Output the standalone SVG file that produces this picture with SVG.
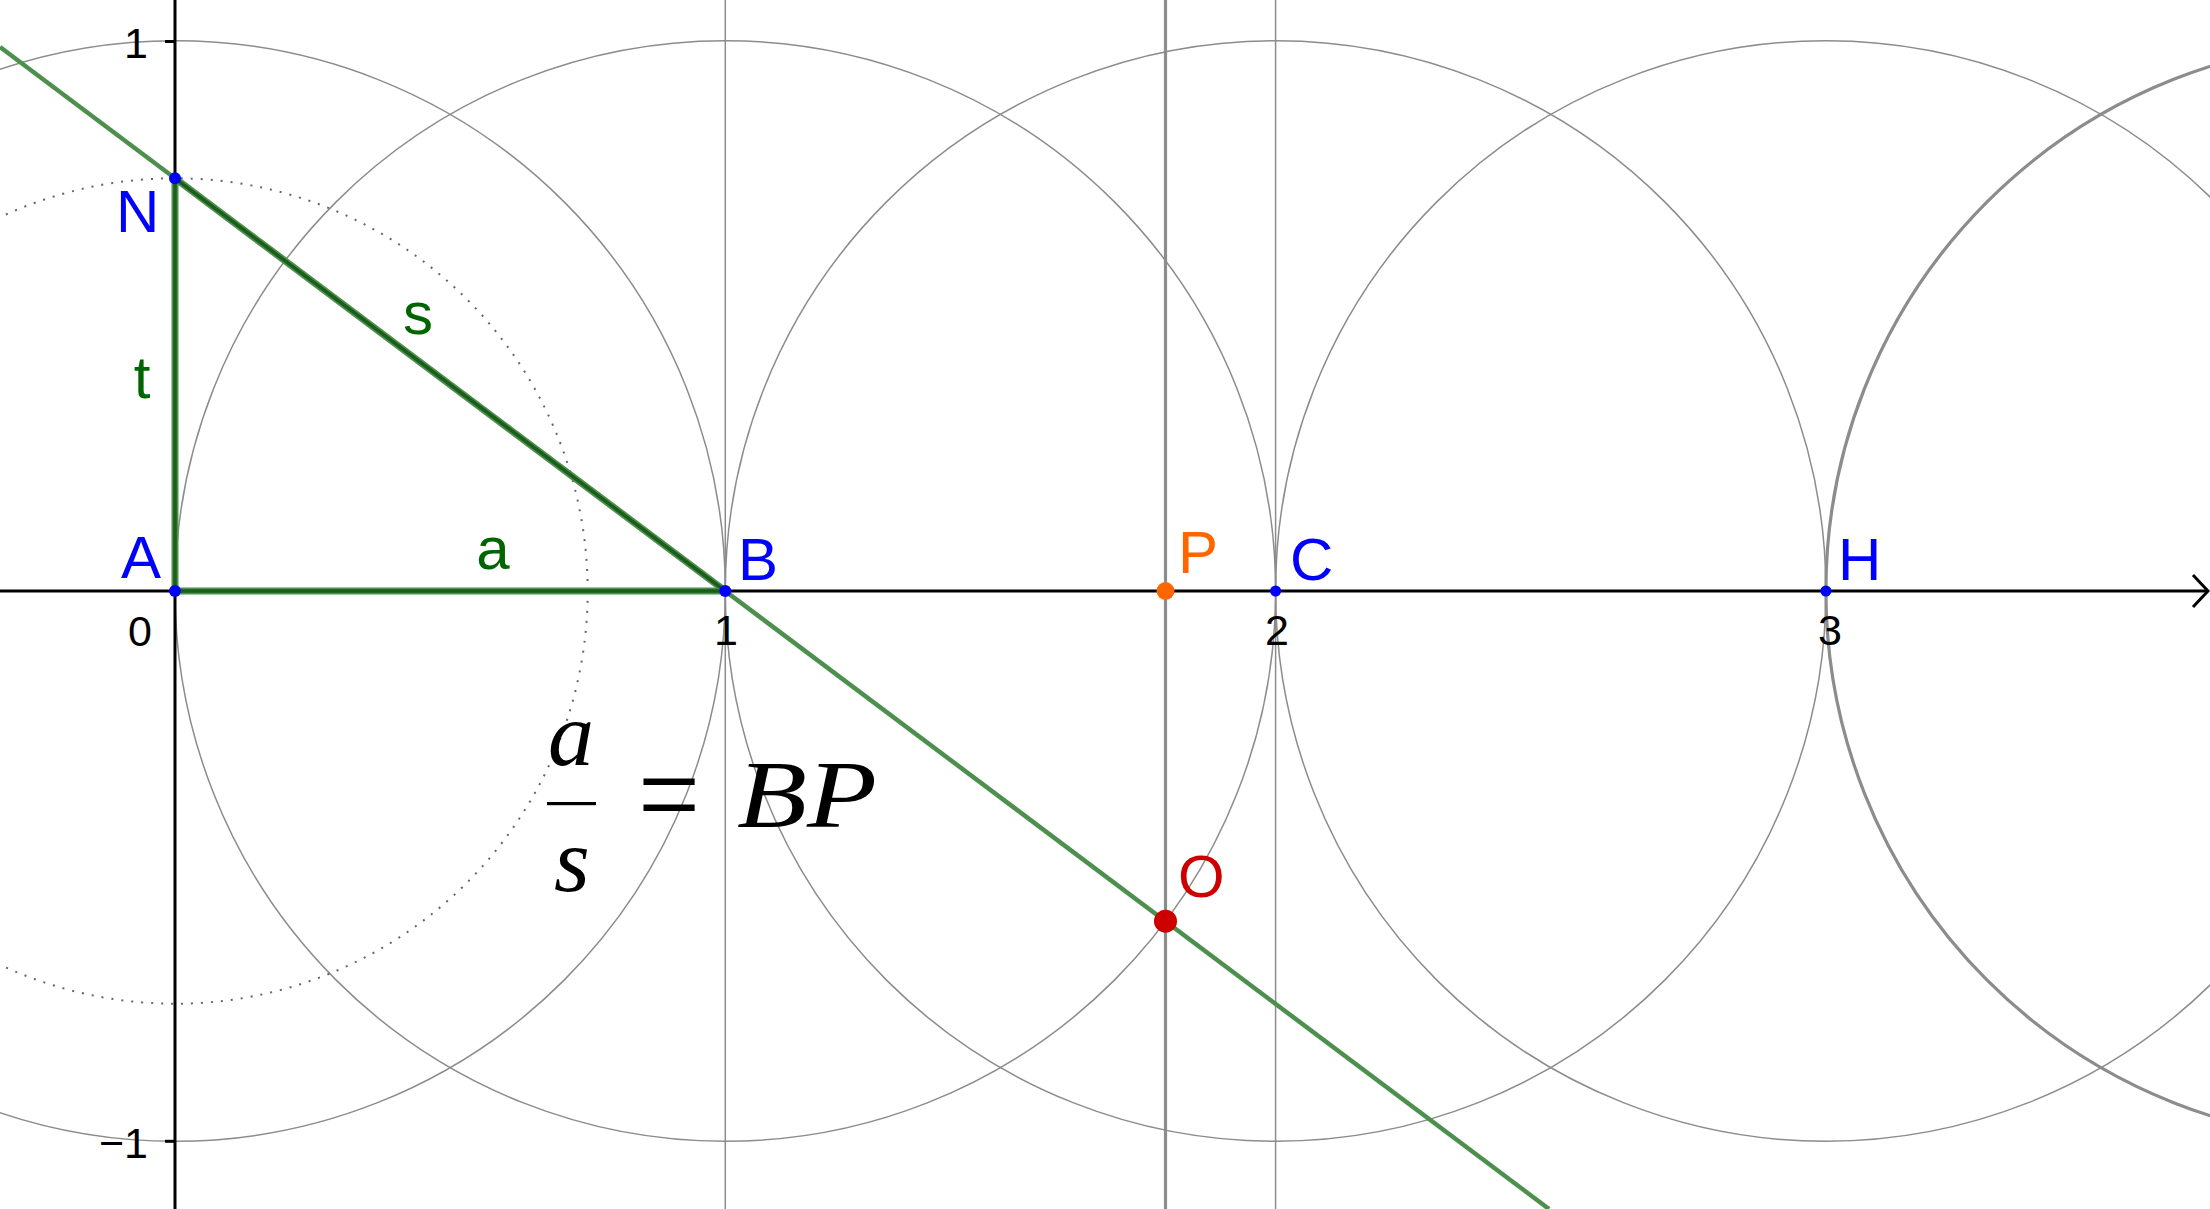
<svg xmlns="http://www.w3.org/2000/svg" width="2210" height="1209" viewBox="0 0 2210 1209">
<style>
.circ{fill:none;stroke:#8c8c8c;stroke-width:1.5}
.circb{fill:none;stroke:#8c8c8c;stroke-width:3.2}
.vl{stroke:#8c8c8c;stroke-width:1.5}
.vlb{stroke:#8c8c8c;stroke-width:3.2}
.axis{stroke:#000;stroke-width:3;fill:none}
.tick{font-family:"Liberation Sans",Arial,sans-serif;font-size:43px;fill:#000}
.lbl{font-family:"Liberation Sans",Arial,sans-serif;font-size:60px}
.glbl{font-family:"Liberation Sans",Arial,sans-serif;font-size:60px;fill:#006400}
.math{font-family:"Liberation Serif","Times New Roman",serif;font-style:italic;fill:#000}
.seg-under{stroke:#4d8f4d;stroke-width:7;stroke-linecap:butt}
.seg{stroke:#1b5e1b;stroke-width:3.5;stroke-linecap:butt}
.bpt{fill:#0000ff}
</style>
<rect width="2210" height="1209" fill="#ffffff"/>
<g id="construction">
<circle class="circ" cx="175" cy="591" r="550.3"/>
<circle class="circ" cx="725.3" cy="591" r="550.3"/>
<circle class="circ" cx="1275.6" cy="591" r="550.3"/>
<circle class="circ" cx="1825.9" cy="591" r="550.3"/>
<circle class="circb" cx="2376.2" cy="591" r="550.3"/>
<circle fill="none" stroke="#666" stroke-width="2" stroke-dasharray="2 8" cx="175" cy="591" r="412.7"/>
<line class="vl" x1="725.3" y1="0" x2="725.3" y2="1209"/>
<line class="vlb" x1="1165.5" y1="0" x2="1165.5" y2="1209"/>
<line class="vl" x1="1275.6" y1="0" x2="1275.6" y2="1209"/>
</g>
<g id="axes">
<line class="axis" x1="0" y1="591" x2="2207" y2="591"/>
<polyline class="axis" points="2193,575 2208,591 2193,607"/>
<line class="axis" x1="175" y1="0" x2="175" y2="1209"/>
<line class="axis" x1="165" y1="41.5" x2="175" y2="41.5"/>
<line class="axis" x1="165" y1="1141.3" x2="175" y2="1141.3"/>
<text class="tick" x="140" y="646" text-anchor="middle">0</text>
<text class="tick" x="726" y="645" text-anchor="middle">1</text>
<text class="tick" x="1277" y="645" text-anchor="middle">2</text>
<text class="tick" x="1830" y="645" text-anchor="middle">3</text>
<text class="tick" x="148" y="58" text-anchor="end">1</text>
<text class="tick" x="148" y="1158" text-anchor="end">−1</text>
</g>
<g id="connectors">
<line x1="0" y1="47" x2="1549" y2="1209" stroke="#4d8f4d" stroke-width="4.5"/>
<line class="seg-under" x1="175" y1="178.3" x2="175" y2="591"/>
<line class="seg-under" x1="175" y1="591" x2="725.3" y2="591"/>
<line class="seg-under" x1="175" y1="178.3" x2="725.3" y2="591"/>
<line class="seg" x1="175" y1="178.3" x2="175" y2="591"/>
<line class="seg" x1="175" y1="591" x2="725.3" y2="591"/>
<line class="seg" x1="175" y1="178.3" x2="725.3" y2="591"/>
<text class="glbl" x="418" y="334" text-anchor="middle">s</text>
<text class="glbl" x="142" y="398" text-anchor="middle">t</text>
<text class="glbl" x="493" y="569" text-anchor="middle">a</text>
</g>
<g id="node-A"><circle class="bpt" cx="175" cy="591" r="6"/><text class="lbl" x="121" y="578" fill="#0000ff">A</text></g>
<g id="node-B"><circle class="bpt" cx="725.3" cy="591" r="6"/><text class="lbl" x="738" y="580" fill="#0000ff">B</text></g>
<g id="node-C"><circle class="bpt" cx="1275.6" cy="591" r="5.5"/><text class="lbl" x="1290" y="580" fill="#0000ff">C</text></g>
<g id="node-H"><circle class="bpt" cx="1825.9" cy="591" r="5.5"/><text class="lbl" x="1838" y="580" fill="#0000ff">H</text></g>
<g id="node-N"><circle class="bpt" cx="175" cy="178.3" r="6"/><text class="lbl" x="116" y="232" fill="#0000ff">N</text></g>
<g id="node-P"><circle cx="1165.5" cy="591" r="9" fill="#ff6600"/><text class="lbl" x="1178" y="573" fill="#ff6600">P</text></g>
<g id="node-O"><circle cx="1165.5" cy="921.2" r="11.5" fill="#cc0000"/><text class="lbl" x="1178" y="897" fill="#cc0000">O</text></g>
<g id="formula">
<text class="math" x="571" y="765" font-size="92" text-anchor="middle">a</text>
<rect x="547" y="802" width="49" height="3.2" fill="#000"/>
<text class="math" x="572" y="891" font-size="92" text-anchor="middle">s</text>
<text x="638" y="838" font-family="'Liberation Serif',serif" font-size="130" textLength="62" lengthAdjust="spacingAndGlyphs" fill="#000">=</text>
<text class="math" x="737" y="827" font-size="95" textLength="140" lengthAdjust="spacingAndGlyphs">BP</text>
</g>
</svg>
